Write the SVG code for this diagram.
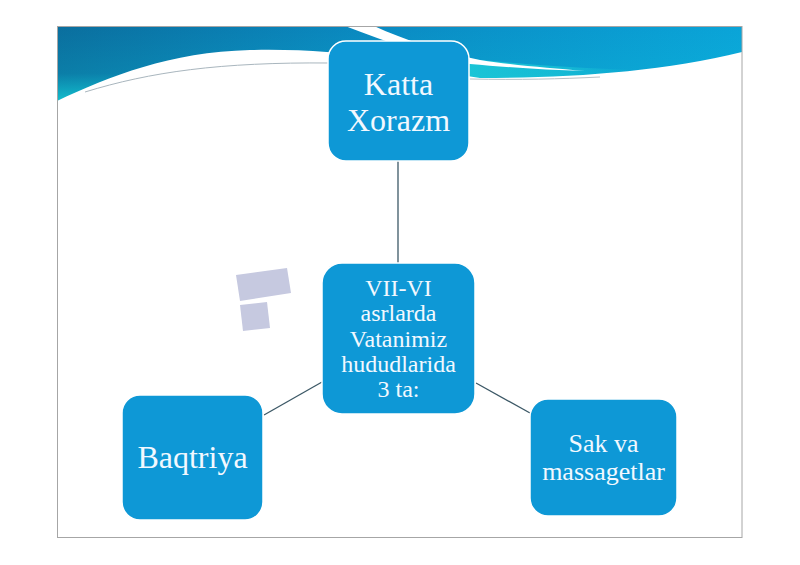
<svg xmlns="http://www.w3.org/2000/svg" width="800" height="565" viewBox="0 0 800 565">
<defs>
<linearGradient id="bandH" x1="0" y1="0" x2="1" y2="0">
<stop offset="0" stop-color="#0a6e9e"/>
<stop offset="0.5" stop-color="#0a8cc4"/>
<stop offset="1" stop-color="#0aa4d8"/>
</linearGradient>
<linearGradient id="bandV" x1="0" y1="0" x2="0" y2="1">
<stop offset="0" stop-color="#12d6dc" stop-opacity="0"/>
<stop offset="0.55" stop-color="#12d6dc" stop-opacity="0.15"/>
<stop offset="1" stop-color="#18e0e0" stop-opacity="0.95"/>
</linearGradient>
<linearGradient id="strip" x1="0" y1="0" x2="1" y2="0">
<stop offset="0" stop-color="#1ccbd8" stop-opacity="0.95"/>
<stop offset="0.6" stop-color="#1ccbd8" stop-opacity="0.6"/>
<stop offset="1" stop-color="#1ccbd8" stop-opacity="0"/>
</linearGradient>
<style>
.node rect{fill:#0e98d6;stroke:#ffffff;stroke-width:1.5}
.node text{fill:#f2f8ff;font-family:"Liberation Serif","Times New Roman",serif;text-anchor:middle}
.conn line{stroke:#3c5866;stroke-width:1.3}
</style>
</defs>
<rect x="0" y="0" width="800" height="565" fill="#ffffff"/>
<g id="background">
<rect x="57" y="26" width="685" height="86" fill="url(#bandH)"/>
<rect x="57" y="26" width="685" height="86" fill="url(#bandV)"/>
<path d="M440,56 C500,62 560,68 640,70 L640,80 L440,80 Z" fill="url(#strip)"/>
<path d="M57,101 C110,76 170,52 250,50 C300,49 340,52 380,58 C420,66 450,74 480,78 C570,78 660,72 742,52 L742,538 L57,538 Z" fill="#ffffff"/>
<path d="M345,26 L374,26 C405,40 440,52 480,60 C520,66 550,68 585,71 C545,70 505,67 470,64 C430,57 390,43 345,26 Z" fill="#ffffff"/>
<path d="M85,92 C150,72 220,62 330,63" fill="none" stroke="#a9b6be" stroke-width="1"/>
<path d="M470,79 C520,80 560,79 600,77" fill="none" stroke="#b5c0c6" stroke-width="1"/>
<polygon points="236,275 287,268 291,293 240,301" fill="#c6c9e0"/>
<polygon points="240,305 267,302 270,328 243,331" fill="#c6c9e0"/>
<rect x="57.5" y="26.5" width="684.5" height="511" fill="none" stroke="#a6a6a6" stroke-width="1"/>
</g>
<g id="connectors" class="conn">
<line x1="398" y1="161" x2="398" y2="263"/>
<line x1="264" y1="415" x2="322" y2="382"/>
<line x1="476" y1="383" x2="530" y2="413"/>
</g>
<g id="node-katta" class="node">
<rect x="328" y="41" width="141" height="120" rx="18"/>
<text x="398.5" y="95" font-size="32">Katta</text>
<text x="398.5" y="131" font-size="32">Xorazm</text>
</g>
<g id="node-center" class="node">
<rect x="322" y="263" width="153" height="151" rx="20"/>
<text x="398.5" y="295.5" font-size="24">VII-VI</text>
<text x="398.5" y="321" font-size="24">asrlarda</text>
<text x="398.5" y="346.5" font-size="24">Vatanimiz</text>
<text x="398.5" y="372" font-size="24">hududlarida</text>
<text x="398.5" y="397" font-size="24">3 ta:</text>
</g>
<g id="node-baqtriya" class="node">
<rect x="122" y="395" width="141" height="125" rx="18"/>
<text x="192.5" y="468" font-size="32">Baqtriya</text>
</g>
<g id="node-sak" class="node">
<rect x="530" y="399" width="147" height="117" rx="18"/>
<text x="603.5" y="452" font-size="26">Sak va</text>
<text x="603.5" y="480" font-size="26">massagetlar</text>
</g>
</svg>
